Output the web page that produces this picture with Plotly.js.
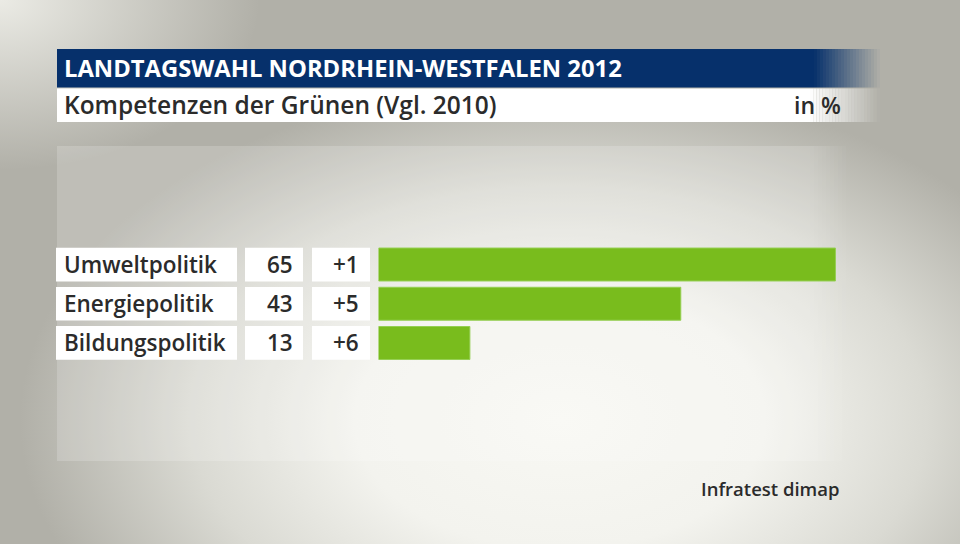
<!DOCTYPE html>
<html>
<head>
<meta charset="utf-8">
<script src="https://cdn.plot.ly/plotly-3.0.1.min.js"></script>
<style>
html,body{margin:0;padding:0;width:960px;height:544px;overflow:hidden;}
body{
  background-color:#b1b0a8;
  background-image:
    radial-gradient(ellipse 260px 170px at 0px 0px, rgba(238,238,232,0.95), rgba(238,238,232,0) 100%),
    radial-gradient(ellipse 540px 340px at 560px 420px, #f8f8f3 0%, #f3f3ee 38%, #dadad3 68%, #b1b0a8 100%);
}
#chart{width:960px;height:544px;}
</style>
</head>
<body>
<div id="chart"></div>
<script>
const headerTitle = "LANDTAGSWAHL NORDRHEIN-WESTFALEN 2012";
const subTitle = "Kompetenzen der Grünen (Vgl. 2010)";
const unitLabel = "in %";
const sourceLabel = "Infratest dimap";
const categories = ["Umweltpolitik", "Energiepolitik", "Bildungspolitik"];
const values = [65, 43, 13];
const changes = ["+1", "+5", "+6"];

const FONT = "Open Sans, Noto Sans, sans-serif";
const DARK = "#2b2b2b";

const shapes = [];
const annotations = [];

function fadeBar(x0, x1, fadeLen, y0, y1, color, steps) {
  shapes.push({type:"rect", xref:"paper", yref:"paper", x0:x0/960, x1:(x1-fadeLen)/960,
    y0:1-y1/544, y1:1-y0/544, fillcolor:color, line:{width:0}, layer:"below"});
  const w = fadeLen/steps;
  for (let s=0; s<steps; s++) {
    shapes.push({type:"rect", xref:"paper", yref:"paper",
      x0:(x1-fadeLen+s*w)/960, x1:(x1-fadeLen+(s+1)*w)/960,
      y0:1-y1/544, y1:1-y0/544, fillcolor:color, opacity:1-(s+0.5)/steps,
      line:{width:0}, layer:"below"});
  }
}
fadeBar(57, 880, 66, 49, 87.5, "#06306b", 22);
fadeBar(57, 880, 70, 88.5, 122, "#ffffff", 22);
fadeBar(57, 850, 40, 146, 461, "rgba(255,255,255,0.18)", 10);

annotations.push({xref:"paper", yref:"paper", x:62/960, y:1-68/544, xanchor:"left", yanchor:"middle",
  text:"<b>"+headerTitle+"</b>", showarrow:false, font:{family:FONT, size:23.8, color:"#ffffff"}});
annotations.push({xref:"paper", yref:"paper", x:62/960, y:1-104.5/544, xanchor:"left", yanchor:"middle",
  text:subTitle, showarrow:false, font:{family:FONT, size:24.5, color:DARK, weight:600}});
annotations.push({xref:"paper", yref:"paper", x:843/960, y:1-104.5/544, xanchor:"right", yanchor:"middle",
  text:unitLabel, showarrow:false, font:{family:FONT, size:23, color:DARK, weight:600}});
annotations.push({xref:"paper", yref:"paper", x:842/960, y:1-488/544, xanchor:"right", yanchor:"middle",
  text:sourceLabel, showarrow:false, font:{family:FONT, size:18.5, color:DARK, weight:600}});

categories.forEach((c, i) => {
  const boxes = [[56,237],[245,303],[312,370]];
  boxes.forEach(b => {
    shapes.push({type:"rect", xref:"paper", yref:"y", x0:b[0]/960, x1:b[1]/960,
      y0:i-0.43, y1:i+0.43, fillcolor:"#ffffff", line:{width:0}, layer:"below"});
  });
  annotations.push({xref:"paper", yref:"y", x:62/960, y:i, xanchor:"left", yanchor:"middle",
    text:c, showarrow:false, font:{family:FONT, size:22.5, color:DARK, weight:600}});
  annotations.push({xref:"paper", yref:"y", x:295/960, y:i, xanchor:"right", yanchor:"middle",
    text:String(values[i]), showarrow:false, font:{family:FONT, size:22.5, color:DARK, weight:600}});
  annotations.push({xref:"paper", yref:"y", x:361/960, y:i, xanchor:"right", yanchor:"middle",
    text:changes[i], showarrow:false, font:{family:FONT, size:22.5, color:DARK, weight:600}});
});

const trace = {
  type:"bar", orientation:"h",
  x: values, y: categories.map((c,i)=>i),
  marker:{color:"#79bc1d", line:{color:"#95cf52", width:1}},
  width:0.84, hoverinfo:"skip"
};

const plotTop = 244.9, plotBottom = 362.6;
const layout = {
  width:960, height:544,
  margin:{l:0,r:0,t:0,b:0},
  paper_bgcolor:"rgba(0,0,0,0)", plot_bgcolor:"rgba(0,0,0,0)",
  showlegend:false,
  xaxis:{domain:[378.5/960, (378.5+80*7.03)/960], range:[0,80], visible:false, fixedrange:true},
  yaxis:{domain:[1-plotBottom/544, 1-plotTop/544], range:[2.5,-0.5], visible:false, fixedrange:true},
  shapes: shapes,
  annotations: annotations,
  bargap:0
};
Plotly.newPlot("chart", [trace], layout, {displayModeBar:false, staticPlot:true});
</script>
</body>
</html>
